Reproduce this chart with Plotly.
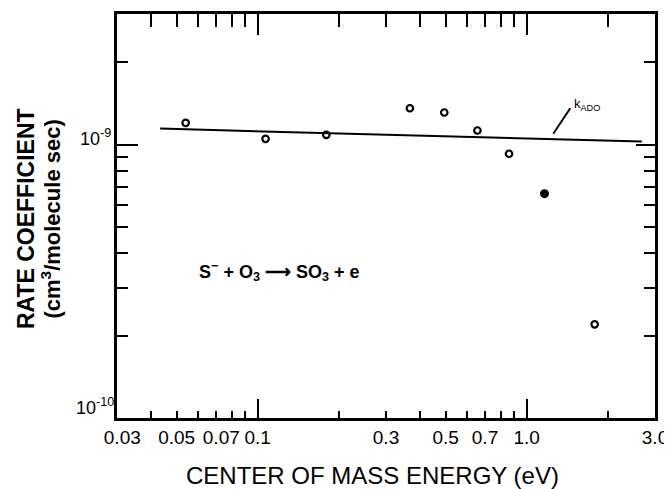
import math
import plotly.graph_objects as go

# ---- data ----
energy_open = [0.054, 0.107, 0.18, 0.368, 0.494, 0.656, 0.86, 1.79]
rate_open = [1.20e-9, 1.049e-9, 1.085e-9, 1.357e-9, 1.309e-9, 1.125e-9, 0.925e-9, 0.220e-9]
energy_filled = [1.165]
rate_filled = [0.661e-9]
kado_energy = [0.0434, 2.68]
kado_rate = [1.143e-9, 1.025e-9]

x_label_vals = [0.03, 0.05, 0.07, 0.1, 0.3, 0.5, 0.7, 1.0, 3.0]
x_label_text = ["\u00a0\u00a00.03", "0.05", "\u00a0\u00a00.07", "0.1", "0.3", "0.5", "0.7", "1.0", "3.0"]
x_major = [0.1, 1.0]
x_minor = [0.04, 0.05, 0.06, 0.07, 0.08, 0.09, 0.2, 0.3, 0.4, 0.5, 0.6, 0.7, 0.8, 0.9, 2.0]
y_major = [1e-9]
y_minor = [2e-10, 3e-10, 4e-10, 5e-10, 6e-10, 7e-10, 8e-10, 9e-10, 2e-9]
y_label_vals = [1e-9, 1e-10]
y_label_text = ["10<sup>-9</sup>", "10<sup>-10</sup>"]

x_min, x_max = 0.03, 3.0
y_min, y_max = 1e-10, 3e-9
x_range = [math.log10(x_min), math.log10(x_max)]
y_range = [math.log10(y_min), math.log10(y_max)]

FONT = "Liberation Sans"
BLK = "black"

fig = go.Figure()

fig.add_trace(go.Scatter(x=kado_energy, y=kado_rate, mode="lines",
                         line=dict(color=BLK, width=2), showlegend=False, hoverinfo="skip"))
fig.add_trace(go.Scatter(x=energy_open, y=rate_open, mode="markers",
                         marker=dict(symbol="circle-open", size=6.5, color=BLK,
                                     line=dict(color=BLK, width=2.2)),
                         showlegend=False))
fig.add_trace(go.Scatter(x=energy_filled, y=rate_filled, mode="markers",
                         marker=dict(symbol="circle", size=9, color=BLK),
                         showlegend=False))

# empty traces so that each tick-only axis is instantiated
tick_axes = [("x2", "y"), ("x3", "y"), ("x4", "y"), ("x5", "y"), ("x", "y2"), ("x", "y3"), ("x", "y4")]
for xa, ya in tick_axes:
    fig.add_trace(go.Scatter(x=[None], y=[None], xaxis=xa, yaxis=ya, mode="lines",
                             showlegend=False, hoverinfo="skip"))

cx = dict(type="log", range=x_range, showgrid=False, zeroline=False, automargin=False)
cy = dict(type="log", range=y_range, showgrid=False, zeroline=False, automargin=False)


# tick-only overlay axes: linear axes spanning the same decades (log10 units)
def tick_x(vals, side, length):
    return dict(type="linear", range=x_range, showgrid=False, zeroline=False, automargin=False,
                overlaying="x", anchor="y", side=side, tickmode="array",
                tickvals=[math.log10(v) for v in vals], ticks="inside", ticklen=length,
                tickwidth=2, tickcolor=BLK, showticklabels=False, showline=False)


def tick_y(vals, side, length):
    return dict(type="linear", range=y_range, showgrid=False, zeroline=False, automargin=False,
                overlaying="y", anchor="x", side=side, tickmode="array",
                tickvals=[math.log10(v) for v in vals], ticks="inside", ticklen=length,
                tickwidth=2, tickcolor=BLK, showticklabels=False, showline=False)


# the page body adds an 8 px margin, so the figure is 8 px smaller and offsets are reduced
fig.update_layout(
    width=664, height=481, autosize=False,
    margin=dict(l=109, r=17, t=6, b=71),
    paper_bgcolor="white", plot_bgcolor="white",
    font=dict(family=FONT, color=BLK),
    xaxis=dict(**cx, tickmode="array", tickvals=x_label_vals, ticktext=x_label_text,
               ticks="", tickangle=0, ticklabelstandoff=0,
               tickfont=dict(family=FONT, size=19, color=BLK),
               showline=True, linecolor=BLK, linewidth=2.5, mirror=True),
    xaxis2=tick_x(x_major, "top", 21),
    xaxis3=tick_x(x_minor, "top", 13),
    xaxis4=tick_x(x_major, "bottom", 19),
    xaxis5=tick_x(x_minor, "bottom", 7),
    yaxis=dict(**cy, tickmode="array", tickvals=y_major, ticks="inside",
               ticklen=21, tickwidth=2, tickcolor=BLK, showticklabels=False,
               showline=True, linecolor=BLK, linewidth=2.5, mirror=True),
    yaxis2=tick_y(y_minor, "left", 11),
    yaxis3=tick_y(y_major, "right", 19),
    yaxis4=tick_y(y_minor, "right", 11),
)

ann = []
# y tick labels
ann.append(dict(x=-0.007, xref="paper", y=math.log10(y_label_vals[0]), yref="y",
                text=y_label_text[0], showarrow=False, xanchor="right", yanchor="middle",
                yshift=7, font=dict(family=FONT, size=18, color=BLK)))
ann.append(dict(x=0.0, xref="paper", y=math.log10(y_label_vals[1]), yref="y",
                text=y_label_text[1], showarrow=False, xanchor="right", yanchor="middle",
                xshift=-1, yshift=12, font=dict(family=FONT, size=18, color=BLK)))
# axis titles
ann.append(dict(x=-0.169, xref="paper", y=0.4926, yref="paper", text="<b>RATE COEFFICIENT</b>",
                textangle=-90, showarrow=False, xanchor="center", yanchor="middle",
                font=dict(family=FONT, size=23, color=BLK)))
ann.append(dict(x=-0.1235, xref="paper", y=0.4926, yref="paper",
                text="<b>(cm<sup>3</sup>/molecule sec)</b>",
                textangle=-90, showarrow=False, xanchor="center", yanchor="middle",
                font=dict(family=FONT, size=22, color=BLK)))
ann.append(dict(x=0.474, xref="paper", y=-0.143, yref="paper",
                text="CENTER OF MASS ENERGY (eV)", showarrow=False,
                xanchor="center", yanchor="middle", font=dict(family=FONT, size=24, color=BLK)))
# reaction label
ann.append(dict(x=math.log10(0.0595), xref="x", y=math.log10(0.342e-9), yref="y",
                text="<b>S<sup>−</sup> + O<sub>3</sub> ⟶ SO<sub>3</sub> + e</b>",
                showarrow=False, xanchor="left", yanchor="middle",
                font=dict(family=FONT, size=18, color=BLK)))
# k_ADO leader line and label
ann.append(dict(x=math.log10(1.256), xref="x", y=math.log10(1.094e-9), yref="y",
                text="", showarrow=True, arrowhead=0, arrowwidth=2, arrowcolor=BLK,
                ax=18, ay=-27, standoff=0))
ann.append(dict(x=math.log10(1.256), xref="x", y=math.log10(1.094e-9), yref="y",
                text="k<sub>ADO</sub>", showarrow=False, xanchor="left", yanchor="middle",
                xshift=19, yshift=29, font=dict(family=FONT, size=13, color=BLK)))
fig.update_layout(annotations=ann)

fig.write_html("out.html")
